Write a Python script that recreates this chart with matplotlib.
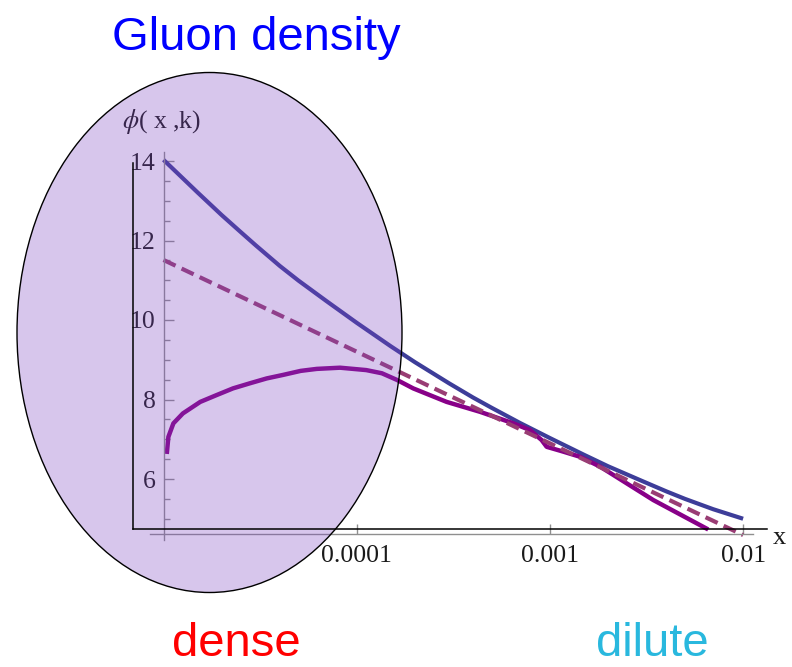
import numpy as np
import matplotlib
matplotlib.use("Agg")
import matplotlib.pyplot as plt
from matplotlib.patches import Ellipse
from matplotlib.ticker import NullLocator, FixedLocator

plt.rcParams["font.family"] = "Liberation Serif"
plt.rcParams["mathtext.fontset"] = "stix"

# phi(x,k) curves against x
x_blue = [1e-5, 1.5e-5, 2e-5, 2.5e-5, 3e-5, 4e-5, 5e-5, 7e-5, 1e-4, 1.5e-4, 2e-4, 3e-4,
          4e-4, 5e-4, 7e-4, 1e-3, 1.5e-3, 2e-3, 3e-3, 4e-3, 5e-3, 7e-3, 1e-2]
phi_blue = [14.03, 13.21, 12.64, 12.22, 11.88, 11.36, 10.99, 10.47, 9.93, 9.34, 8.94, 8.41,
            8.05, 7.79, 7.41, 7.03, 6.61, 6.32, 5.95, 5.69, 5.50, 5.24, 5.00]

x_dash = [1e-5, 1e-2]
phi_dash = [11.51, 4.59]

x_purple = [1.04e-5, 1.06e-5, 1.125e-5, 1.26e-5, 1.55e-5, 1.88e-5, 2.29e-5, 2.81e-5,
            3.42e-5, 4.17e-5, 5.13e-5, 6.21e-5, 8.2e-5, 1.12e-4, 1.35e-4, 1.62e-4,
            1.96e-4, 2.92e-4, 4.35e-4, 6.47e-4, 7.89e-4, 9.06e-4, 9.62e-4, 1.17e-3,
            1.43e-3, 1.82e-3, 3.43e-3, 6.6e-3]
phi_purple = [6.63, 7.06, 7.40, 7.65, 7.94, 8.11, 8.28, 8.41,
              8.53, 8.62, 8.72, 8.77, 8.80, 8.74, 8.66, 8.49,
              8.28, 7.94, 7.69, 7.40, 7.23, 6.98, 6.81, 6.69,
              6.56, 6.31, 5.47, 4.73]

xticks = [1e-4, 1e-3, 1e-2]
xtick_labels = ["0.0001", "0.001", "0.01"]
yticks = [6, 8, 10, 12, 14]
yminor = np.arange(5, 14, 0.5)

W, H = 792, 667
fig = plt.figure(figsize=(W / 100, H / 100), dpi=100)

# pixel layout: x=1e-5 sits at 163.5 px, one decade is 193.2 px; phi=6 at 479 px, 1 unit = 39.75 px
def px_to_x(px):
    return 10 ** (-5 + (px - 163.5) / 193.2)

def py_to_phi(py):
    return 6 + (479 - py) / 39.75

left, right, top, bottom = 100, 790, 100, 600
ax = fig.add_axes([left / W, 1 - bottom / H, (right - left) / W, (bottom - top) / H])
ax.set_xscale("log")
ax.set_xlim(px_to_x(left), px_to_x(right))
ax.set_ylim(py_to_phi(bottom), py_to_phi(top))
ax.patch.set_alpha(0)

gray = "#8f8f8f"
for s in ["top", "right"]:
    ax.spines[s].set_visible(False)
ax.spines["left"].set_position(("data", 1e-5))
ax.spines["left"].set_bounds(py_to_phi(540), py_to_phi(152))
ax.spines["bottom"].set_position(("data", py_to_phi(534)))
ax.spines["bottom"].set_bounds(px_to_x(150), px_to_x(753))
for s in ["left", "bottom"]:
    ax.spines[s].set_color(gray)
    ax.spines[s].set_linewidth(1.0)

ax.set_xticks(xticks, xtick_labels)
ax.xaxis.set_minor_locator(NullLocator())
ax.set_yticks(yticks)
ax.yaxis.set_minor_locator(FixedLocator([v for v in yminor if v not in yticks]))
ax.tick_params(axis="x", which="major", direction="in", length=7, width=1, color=gray,
               labelsize=18.5, labelcolor="#1a1a1a", pad=8)
ax.tick_params(axis="y", which="major", direction="in", length=7, width=1, color=gray,
               labelsize=18.5, labelcolor="#1a1a1a", pad=5.5)
ax.tick_params(axis="y", which="minor", direction="in", length=4, width=1, color=gray)

ax.plot(x_blue, phi_blue, color="#3d3d99", lw=3.0, solid_capstyle="butt", solid_joinstyle="round")
ax.plot(x_purple, phi_purple, color="#880088", lw=3.2, solid_capstyle="butt", solid_joinstyle="round")
ax.plot(x_dash, phi_dash, color="#993d74", lw=3.0, dashes=(3.2, 1.6), dash_capstyle="butt")

# overlay in pixel coordinates for the frame, the ellipse and the captions
ov = fig.add_axes([0, 0, 1, 1])
ov.set_xlim(0, W)
ov.set_ylim(H, 0)
ov.axis("off")
ov.patch.set_alpha(0)

ov.plot([133, 133], [163, 529], color="black", lw=1.1)
ov.plot([133, 767], [529, 529], color="black", lw=1.1)

ov.text(162, 122, r"$\phi$( x ,k)", fontsize=18.5, color="#1a1a1a", ha="center", va="center", zorder=0.5)
ov.text(779, 538, "x", fontsize=19, color="#1a1a1a", ha="center", va="center")

ov.add_patch(Ellipse((209.5, 332.5), 385, 520, facecolor=(0.49, 0.27, 0.76, 0.3),
                     edgecolor="black", lw=1.0, zorder=1))

ov.text(256, 50, "Gluon density", color="#0000ff", fontsize=34, ha="center", va="baseline",
        family="Liberation Sans")
ov.text(236, 656, "dense", color="#ff0000", fontsize=34, ha="center", va="baseline",
        family="Liberation Sans")
ov.text(652, 656, "dilute", color="#29b8de", fontsize=34, ha="center", va="baseline",
        family="Liberation Sans")

fig.savefig("out.png", dpi=100)
